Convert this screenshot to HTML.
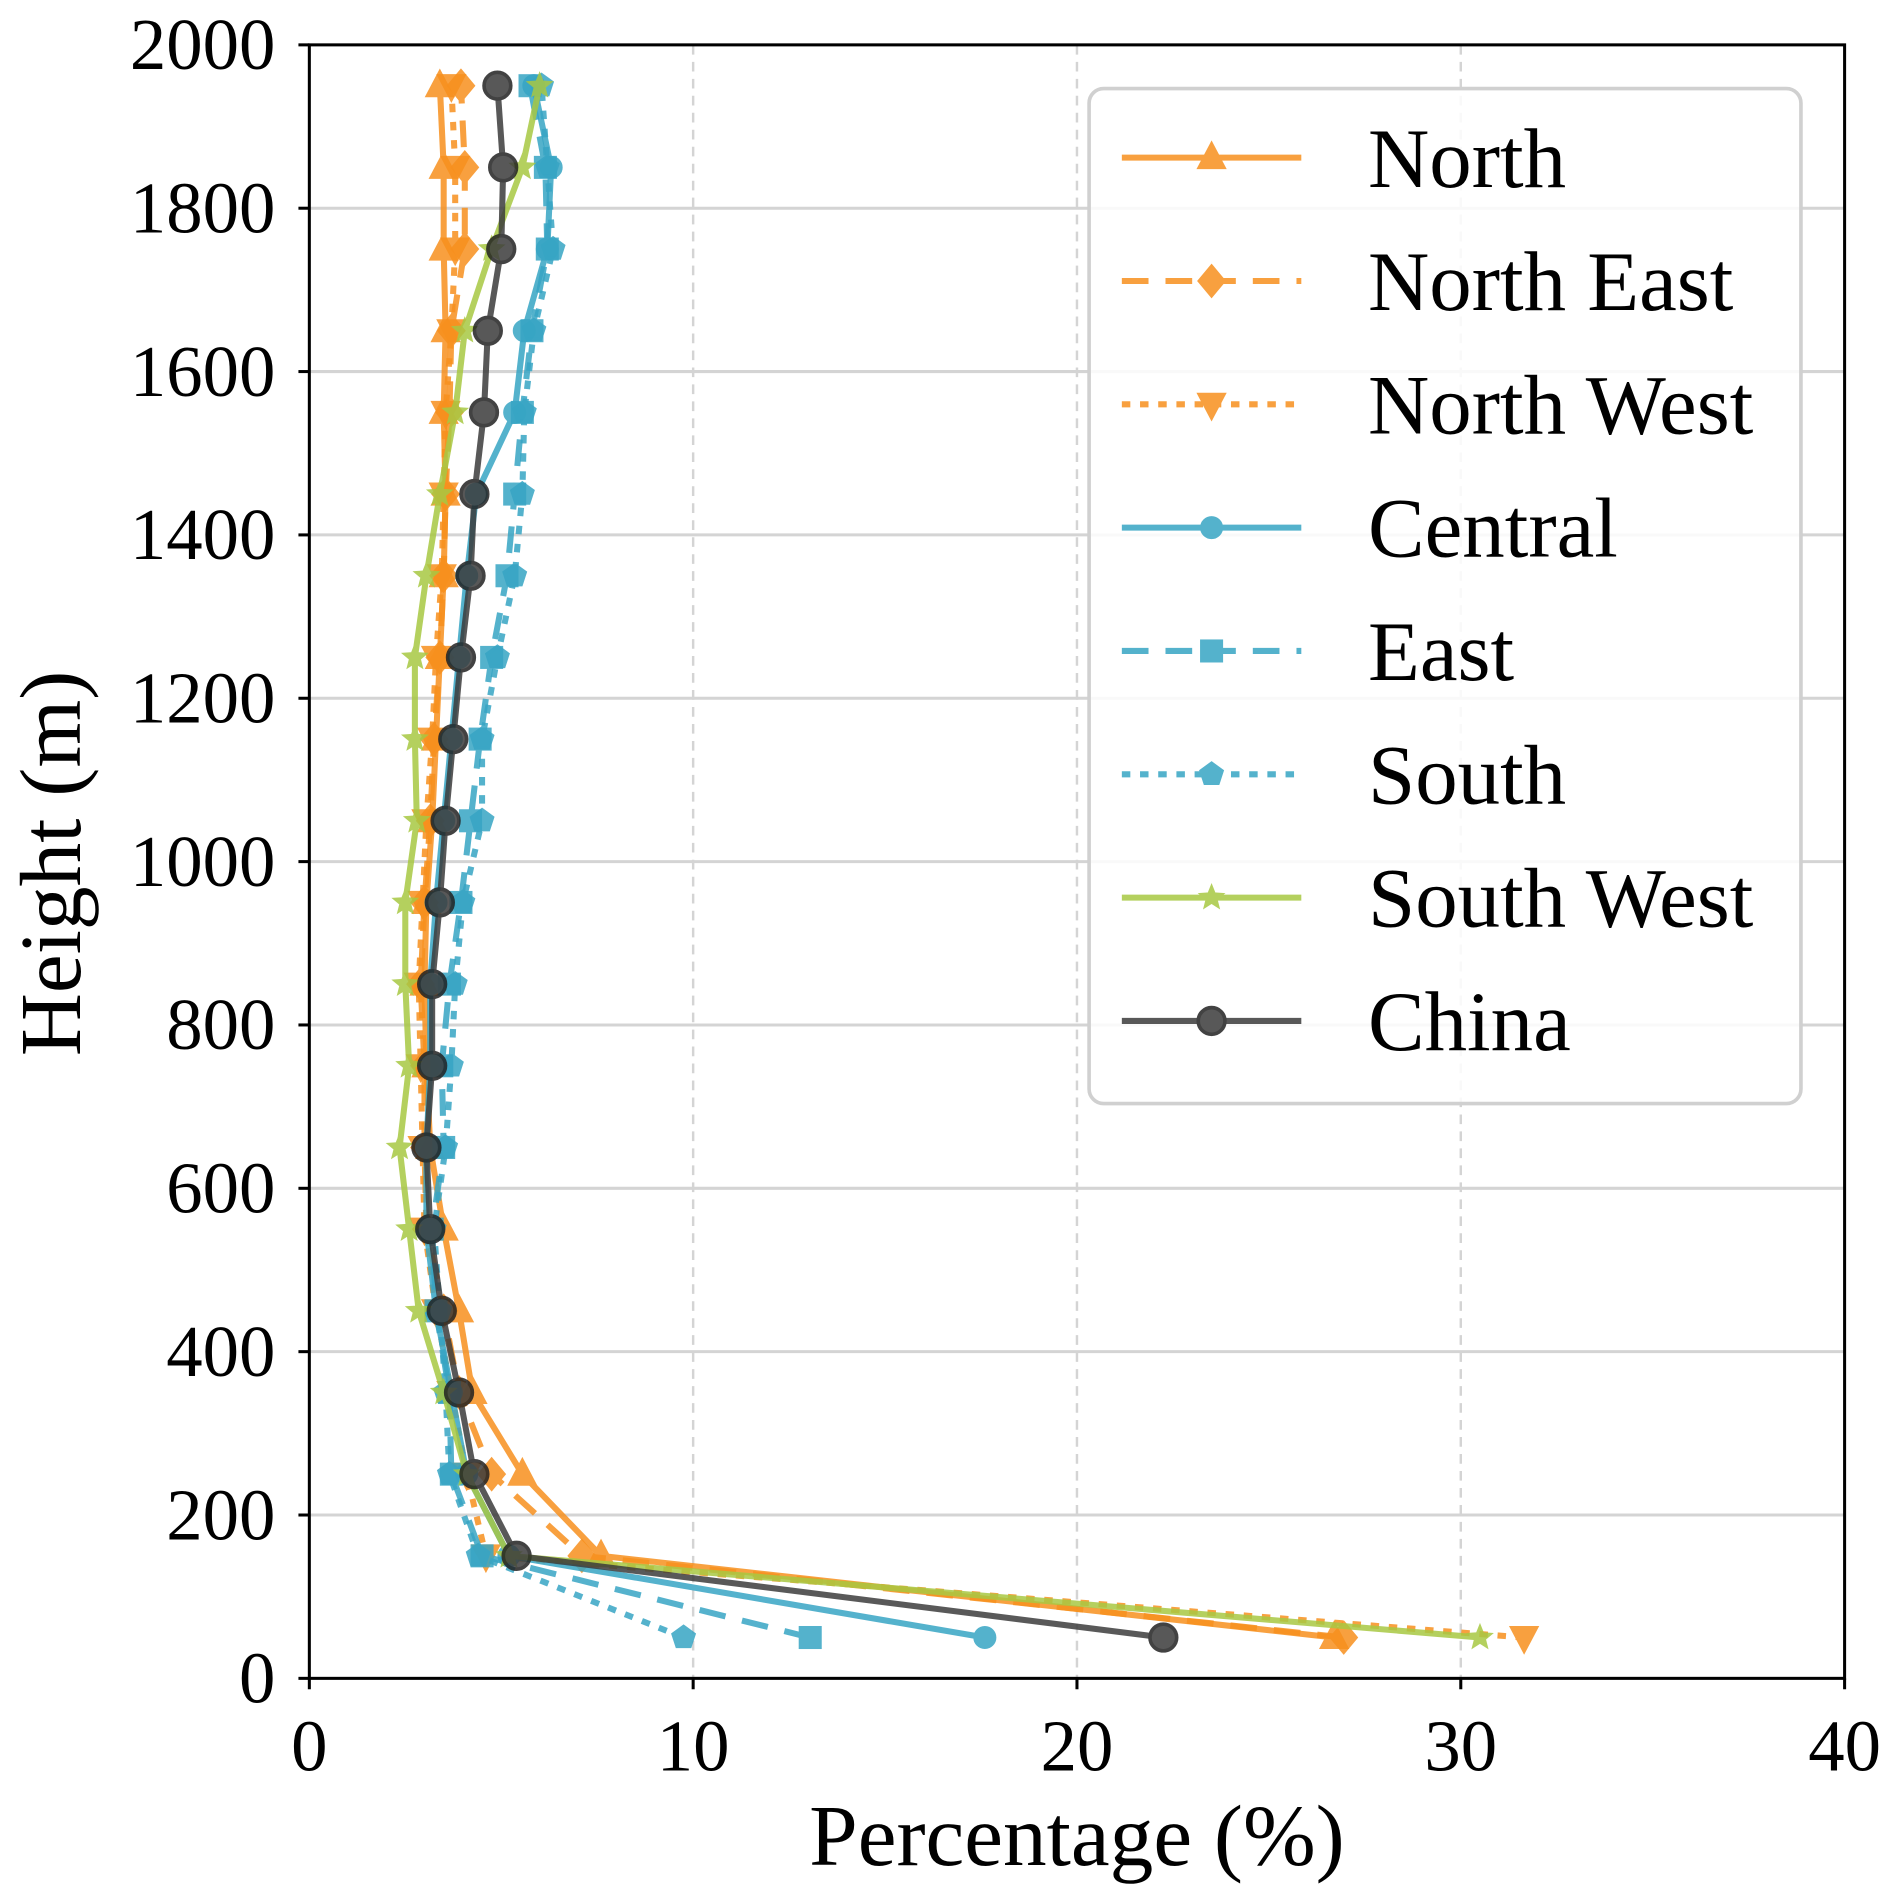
<!DOCTYPE html>
<html><head><meta charset="utf-8"><style>html,body{margin:0;padding:0;background:#fff}svg{display:block}</style></head>
<body>
<svg id="chart" width="1892" height="1893" viewBox="0 0 1560 1561" xmlns="http://www.w3.org/2000/svg" font-family="'Liberation Serif', serif">
<rect width="1560" height="1561" fill="#fff"/>
<g id="grid"></g>
<g id="series"></g>
<g id="axes"></g>
<g id="legend"></g>
</svg>
<script>
const heights = [50,150,250,350,450,550,650,750,850,950,1050,1150,1250,1350,1450,1550,1650,1750,1850,1950];
const xTicks = [0,10,20,30,40];
const yTicks = [0,200,400,600,800,1000,1200,1400,1600,1800,2000];
const seriesNames = ["North","North East","North West","Central","East","South","South West","China"];
const northVals = [26.7,7.6,5.55,4.25,3.9,3.5,3.15,3.05,3.0,3.05,3.2,3.3,3.4,3.5,3.55,3.5,3.55,3.5,3.5,3.4];
const northEastVals = [26.95,7.1,4.75,3.9,3.5,3.05,3.0,3.0,2.9,3.0,3.15,3.25,3.4,3.5,3.55,3.65,3.7,4.05,4.05,3.95];
const northWestVals = [31.65,4.6,4.1,3.7,3.3,3.0,2.95,2.9,2.85,2.95,3.05,3.2,3.3,3.45,3.5,3.55,3.7,3.8,3.8,3.7];
const centralVals = [17.6,5.2,4.1,3.7,3.3,3.05,3.05,3.15,3.15,3.3,3.5,3.7,3.9,4.1,4.35,5.35,5.6,6.2,6.3,5.85];
const eastVals = [13.05,4.5,3.7,3.65,3.3,3.2,3.5,3.45,3.65,3.95,4.2,4.45,4.75,5.15,5.35,5.55,5.8,6.2,6.15,5.75];
const southVals = [9.75,4.4,3.65,3.55,3.4,3.25,3.55,3.7,3.8,4.0,4.5,4.5,4.9,5.35,5.55,5.6,5.85,6.35,6.2,6.05];
const southWestVals = [30.5,5.2,4.1,3.5,2.85,2.6,2.35,2.6,2.5,2.5,2.8,2.75,2.75,3.05,3.4,3.8,4.05,4.75,5.55,6.0];
const chinaVals = [22.25,5.4,4.3,3.9,3.45,3.15,3.05,3.2,3.2,3.4,3.55,3.75,3.95,4.2,4.3,4.55,4.65,5.0,5.05,4.9];

const NS="http://www.w3.org/2000/svg";
const X0=255,X1=1521,Y0=1384,Y1=37;
const xs=v=>X0+(v-0)/(40-0)*(X1-X0);
const ys=h=>Y0-(h-0)/(2000-0)*(Y0-Y1);
function el(tag,attrs,parent){const e=document.createElementNS(NS,tag);for(const k in attrs)e.setAttribute(k,attrs[k]);parent.appendChild(e);return e;}
const grid=document.getElementById('grid'),axes=document.getElementById('axes'),ser=document.getElementById('series'),leg=document.getElementById('legend');

yTicks.forEach(t=>{if(t>0&&t<2000){const l=el('line',{x1:X0,x2:X1,y1:ys(t),y2:ys(t),stroke:'#d4d4d4','stroke-width':2.5},grid);

}});
xTicks.forEach(t=>{if(t>0&&t<40){const l=el('line',{x1:xs(t),x2:xs(t),y1:Y1,y2:Y0,stroke:'#d4d4d4','stroke-width':2,'stroke-dasharray':'8,6'},grid);

}});

const colors=['#f7901e','#f7901e','#f7901e','#37a5c4','#37a5c4','#37a5c4','#a8c843','#3c3c3c'];
const dashes=['','22,14','7,8','','22,14','7,8','',''];
const markers=['tri','diamond','tridown','circle','square','pentagon','star','bigcircle'];
const vals=[northVals,northEastVals,northWestVals,centralVals,eastVals,southVals,southWestVals,chinaVals];

function marker(type,x,y,c,p){
  let e;
  if(type==='tri')e=el('polygon',{points:`${x},${y-11} ${x-10},${y+8} ${x+10},${y+8}`},p);
  else if(type==='tridown')e=el('polygon',{points:`${x},${y+11} ${x-10},${y-8} ${x+10},${y-8}`},p);
  else if(type==='diamond')e=el('polygon',{points:`${x},${y-12} ${x+10},${y} ${x},${y+12} ${x-10},${y}`},p);
  else if(type==='square')e=el('rect',{x:x-8,y:y-8,width:16,height:16},p);
  else if(type==='circle')e=el('circle',{cx:x,cy:y,r:8},p);
  else if(type==='bigcircle')e=el('circle',{cx:x,cy:y,r:11},p);
  else if(type==='pentagon'){let pts=[];for(let i=0;i<5;i++){const a=-Math.PI/2+i*2*Math.PI/5;pts.push((x+9*Math.cos(a))+','+(y+9*Math.sin(a)));}e=el('polygon',{points:pts.join(' ')},p);}
  else {let pts=[];for(let i=0;i<10;i++){const a=-Math.PI/2+i*Math.PI/5,r=i%2?3.5:8;pts.push((x+r*Math.cos(a))+','+(y+r*Math.sin(a)));}e=el('polygon',{points:pts.join(' ')},p);}
  e.setAttribute('fill',c);e.setAttribute('stroke',c);e.setAttribute('stroke-width',3);
  if(type==='bigcircle'){e.setAttribute('fill','#3c3c3c');e.setAttribute('stroke','#222');}
  return e;
}

vals.forEach((v,i)=>{
  const g=el('g',{opacity:0.85},ser);
  
  
  const pts=v.map((d,j)=>xs(d)+','+ys(heights[j])).join(' ');
  const line=el('polyline',{points:pts,fill:'none',stroke:colors[i],'stroke-width':5,'stroke-linejoin':'round'},g);
  if(dashes[i])line.setAttribute('stroke-dasharray',dashes[i]);
  
  
  v.forEach((d,j)=>{const m=marker(markers[i],xs(d),ys(heights[j]),colors[i],g);
    
    });
});

const fr=el('rect',{x:X0,y:Y1,width:X1-X0,height:Y0-Y1,fill:'none',stroke:'#000','stroke-width':2.5},axes);


xTicks.forEach(t=>{
  el('line',{x1:xs(t),x2:xs(t),y1:Y0,y2:Y0+9,stroke:'#000','stroke-width':2.5},axes);
  const tx=el('text',{x:xs(t),y:Y0+76,'font-size':60,'text-anchor':'middle'},axes);tx.textContent=t;
  
  
});
yTicks.forEach(t=>{
  el('line',{x1:X0-9,x2:X0,y1:ys(t),y2:ys(t),stroke:'#000','stroke-width':2.5},axes);
  const tx=el('text',{x:X0-28,y:ys(t)+20,'font-size':60,'text-anchor':'end'},axes);tx.textContent=t;
  
  
});
const xl=el('text',{x:888,y:1538,'font-size':72,'text-anchor':'middle'},axes);xl.textContent='Percentage (%)';


const yl=el('text',{x:0,y:0,'font-size':72,'text-anchor':'middle',transform:'translate(66,712) rotate(-90)'},axes);yl.textContent='Height (m)';



const lb=el('rect',{x:898,y:73,width:587,height:837,rx:12,fill:'#fff','fill-opacity':0.85,stroke:'#d0d0d0','stroke-width':3},leg);


seriesNames.forEach((n,i)=>{
  const y=130+i*101.7;
  const g=el('g',{opacity:0.85},leg);
  
  
  const l=el('line',{x1:925,x2:1073,y1:y,y2:y,stroke:colors[i],'stroke-width':5},g);
  if(dashes[i])l.setAttribute('stroke-dasharray',dashes[i]);
  marker(markers[i],999,y,colors[i],g);
  const t=el('text',{x:1128,y:y+24,'font-size':70,fill:'#000'},leg);t.textContent=n;
  
  
});
</script>
</body></html>
